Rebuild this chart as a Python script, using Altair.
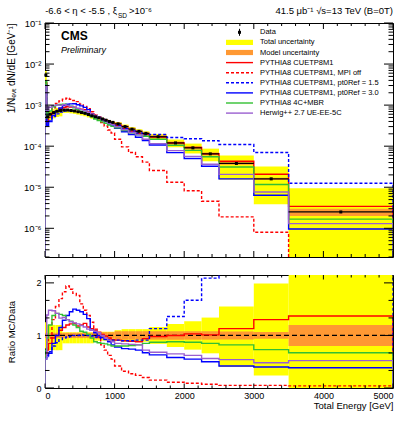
import altair as alt
import pandas as pd

# ---- binning and measured spectrum -------------------------------------
edges = [0, 25, 50, 100, 150, 200, 250, 300, 350, 400, 450, 500, 550, 600, 650,
         700, 750, 800, 850, 900, 950, 1000, 1100, 1200, 1300, 1400, 1500,
         1750, 2000, 2250, 2500, 3000, 3500, 5000]

data_dnde = [5.4e-3, 5.2e-4, 6.0e-4, 6.6e-4, 7.1e-4, 7.4e-4, 7.6e-4, 7.6e-4,
             7.4e-4, 7.2e-4, 6.9e-4, 6.6e-4, 6.3e-4, 5.9e-4, 5.5e-4, 5.2e-4,
             4.9e-4, 4.6e-4, 4.3e-4, 4.0e-4, 3.8e-4, 3.5e-4, 3.0e-4, 2.6e-4,
             2.3e-4, 2.05e-4, 1.7e-4, 1.2e-4, 9.1e-5, 6.5e-5, 3.8e-5, 1.6e-5,
             2.5e-6]

# relative uncertainties (upper / lower total, symmetric model)
tot_up = [0.25, 0.20, 0.20, 0.20, 0.20, 0.20, 0.06, 0.06, 0.06, 0.06, 0.06,
          0.06, 0.06, 0.06, 0.06, 0.07, 0.07, 0.07, 0.07, 0.07, 0.07, 0.10,
          0.12, 0.12, 0.12, 0.12, 0.16, 0.22, 0.27, 0.34, 0.55, 0.99, 2.80]
tot_dn = [0.25, 0.28, 0.28, 0.28, 0.28, 0.28, 0.15, 0.15, 0.15, 0.15, 0.15,
          0.15, 0.15, 0.15, 0.15, 0.10, 0.10, 0.10, 0.10, 0.10, 0.10, 0.10,
          0.12, 0.12, 0.12, 0.12, 0.16, 0.22, 0.27, 0.34, 0.60, 0.76, 1.00]
model_unc = [0.05, 0.05, 0.05, 0.05, 0.05, 0.05, 0.05, 0.05, 0.05, 0.05, 0.05,
             0.05, 0.05, 0.05, 0.05, 0.06, 0.06, 0.06, 0.06, 0.06, 0.06, 0.08,
             0.08, 0.08, 0.08, 0.08, 0.08, 0.08, 0.08, 0.08, 0.075, 0.065, 0.20]

# ---- MC / data ratios ----------------------------------------------------
r_cuetp8m1 = [0.62, 0.72, 0.85, 0.95, 1.00, 1.10, 1.15, 1.20, 1.22, 1.23, 1.18,
              1.20, 1.23, 1.16, 1.13, 1.10, 1.06, 1.02, 0.99, 0.95, 0.92, 0.91,
              0.90, 0.89, 0.88, 0.94, 0.98, 1.00, 1.03, 1.01, 1.13, 1.30, 1.37]
r_mpi_off = [0.65, 0.90, 0.95, 1.30, 1.55, 1.70, 1.83, 1.94, 1.88, 1.80, 1.76,
             1.60, 1.48, 1.38, 1.25, 1.12, 0.97, 0.82, 0.72, 0.62, 0.55, 0.42,
             0.32, 0.27, 0.24, 0.20, 0.15, 0.11, 0.09, 0.07, 0.05, 0.05, 0.04]
r_pt0_15 = [0.55, 0.60, 0.69, 0.80, 0.86, 0.92, 0.95, 0.97, 0.98, 1.00, 1.00,
            1.01, 1.00, 1.00, 0.99, 0.97, 0.96, 0.94, 0.93, 0.92, 0.91, 0.91,
            0.90, 0.90, 0.91, 0.91, 1.13, 1.36, 1.67, 2.09, 2.90, 4.40, 5.00]
r_pt0_30 = [0.58, 0.62, 0.66, 0.85, 1.00, 1.15, 1.29, 1.38, 1.45, 1.50, 1.48,
            1.45, 1.40, 1.32, 1.10, 1.05, 1.00, 0.96, 0.92, 0.88, 0.82, 0.78,
            0.75, 0.74, 0.72, 0.67, 0.63, 0.58, 0.55, 0.50, 0.42, 0.40, 0.385]
r_4c_mbr = [0.72, 0.95, 1.20, 1.38, 1.42, 1.40, 1.38, 1.30, 1.27, 1.20, 1.15,
            1.08, 1.06, 1.02, 0.95, 0.88, 0.86, 0.85, 0.84, 0.82, 0.80, 0.80,
            0.80, 0.81, 0.82, 0.85, 0.87, 0.88, 0.87, 0.85, 0.82, 0.73, 0.67]
r_herwig = [0.55, 1.39, 1.48, 1.47, 1.42, 1.33, 1.34, 1.30, 1.26, 1.24, 1.22,
            1.19, 1.16, 1.12, 1.10, 1.08, 1.05, 1.00, 0.95, 0.91, 0.88, 0.85,
            0.84, 0.83, 0.82, 0.72, 0.68, 0.65, 0.62, 0.56, 0.54, 0.48, 0.52]

legend_labels = ["Data", "Total uncertainty", "Model uncertainty",
                 "PYTHIA8 CUETP8M1", "PYTHIA8 CUETP8M1, MPI off",
                 "PYTHIA8 CUETP8M1, pt0Ref = 1.5", "PYTHIA8 CUETP8M1, pt0Ref = 3.0",
                 "PYTHIA8 4C+MBR", "Herwig++ 2.7 UE-EE-5C"]
x_tick_labels = [0, 1000, 2000, 3000, 4000, 5000]
ratio_tick_labels = [0, 1, 2]
decades = [-6, -5, -4, -3, -2, -1]

DOT = [3, 2]
styles = [
    (legend_labels[3], r_cuetp8m1, "#ff0000", None),
    (legend_labels[4], r_mpi_off, "#ff0000", DOT),
    (legend_labels[5], r_pt0_15, "#0000ff", DOT),
    (legend_labels[6], r_pt0_30, "#0000ff", None),
    (legend_labels[7], r_4c_mbr, "#33c033", None),
    (legend_labels[8], r_herwig, "#9a5fd0", None),
]
YELLOW, ORANGE = "#ffff00", "#ff9933"
FONT = "Liberation Sans"

W, H_TOP, H_RAT = 348, 234, 113
Y_TOP = [2e-7, 0.1]
Y_RAT = [0.0, 2.15]

xscale = alt.Scale(domain=[0, 5000], nice=False, zero=False)
ytop = alt.Scale(type="log", domain=Y_TOP, nice=False)
yrat = alt.Scale(domain=Y_RAT, nice=False, zero=False)

# ---- tables ----------------------------------------------------------------
lo, hi = edges[:-1], edges[1:]
bins = pd.DataFrame({"lo": lo, "hi": hi, "data": data_dnde,
                     "up": tot_up, "dn": tot_dn, "mu": model_unc})
bins["mid"] = (bins.lo + bins.hi) / 2
bins["tr_lo"] = (1 - bins.dn).clip(lower=0.0)
bins["tr_hi"] = 1 + bins.up
bins["mr_lo"] = 1 - bins.mu
bins["mr_hi"] = 1 + bins.mu
bins["tt_lo"] = bins.data * (1 - bins.dn).clip(lower=1e-3)
bins["tt_hi"] = bins.data * bins.tr_hi
bins["mt_lo"] = bins.data * bins.mr_lo
bins["mt_hi"] = bins.data * bins.mr_hi

rows = []
for name, rat, _, _ in styles:
    k = 0
    rows.append(dict(model=name, k=k, x=edges[0], r=Y_RAT[0], t=Y_TOP[0]))
    for a, b, d, r in zip(lo, hi, data_dnde, rat):
        rows.append(dict(model=name, k=k + 1, x=a, r=r, t=d * r))
        rows.append(dict(model=name, k=k + 2, x=b, r=r, t=d * r))
        k += 2
    rows.append(dict(model=name, k=k + 1, x=edges[-1], r=Y_RAT[0], t=Y_TOP[0]))
steps = pd.DataFrame(rows)

SUP = str.maketrans("-0123456789", "⁻⁰¹²³⁴⁵⁶⁷⁸⁹")
label_expr = ""
for d in decades[:-1]:
    label_expr += f"datum.value < {1.5 * 10 ** d} ? '10{str(d).translate(SUP)}' : "
label_expr += f"'10{str(decades[-1]).translate(SUP)}'"

top_yaxis = alt.Axis(values=[10.0 ** d for d in decades], labelExpr=label_expr,
                     ticks=False, tickSize=0, domain=False, grid=False,
                     labelFont=FONT, labelFontSize=9.5, labelPadding=4,
                     titleFont=FONT, titleFontSize=10, titleFontWeight="normal",
                     titleAngle=270, titleX=-34, titleY=0, titleAlign="right",
                     titleBaseline="middle")
rat_yaxis = alt.Axis(values=ratio_tick_labels, format="d", ticks=False, tickSize=0,
                     domain=False, grid=False, labelFont=FONT, labelFontSize=9,
                     labelPadding=4, titleFont=FONT, titleFontSize=9.5,
                     titleFontWeight="normal", titleAngle=270, titleX=-34,
                     titleY=H_RAT / 2, titleAlign="center", titleBaseline="middle")
rat_xaxis = alt.Axis(values=x_tick_labels, format="d", ticks=False, tickSize=0,
                     domain=False, grid=False, labelFont=FONT, labelFontSize=9,
                     labelPadding=3, titleFont=FONT, titleFontSize=9.5,
                     titleFontWeight="normal", titleX=W, titleY=20,
                     titleAlign="right", titleBaseline="alphabetic")

TOP_TITLE = "1/Nₑᵥₜ dN/dE [GeV⁻¹]"
RAT_TITLE = "Ratio MC/Data"
X_TITLE = "Total Energy [GeV]"


def X(field, panel):
    if panel == "top":
        return alt.X(field, scale=xscale, axis=None)
    return alt.X(field, scale=xscale, axis=rat_xaxis, title=X_TITLE)


def Y(field, panel):
    if panel == "top":
        return alt.Y(field, scale=ytop, axis=top_yaxis, title=TOP_TITLE)
    return alt.Y(field, scale=yrat, axis=rat_yaxis, title=RAT_TITLE)


def band_layers(panel):
    p = "t" if panel == "top" else "r"
    base = alt.Chart(bins)
    return [
        base.mark_rect(color=YELLOW, clip=True).encode(
            x=X("lo:Q", panel), x2="hi:Q", y=Y(f"t{p}_lo:Q", panel), y2=f"t{p}_hi:Q"),
        base.mark_rect(color=ORANGE, clip=True).encode(
            x=X("lo:Q", panel), x2="hi:Q", y=Y(f"m{p}_lo:Q", panel), y2=f"m{p}_hi:Q"),
    ]


def model_layers(panel):
    field = "t:Q" if panel == "top" else "r:Q"
    out = []
    for name, _, color, dash in styles:
        kw = dict(color=color, strokeWidth=1.4, clip=True)
        if dash:
            kw["strokeDash"] = dash
        out.append(alt.Chart(steps[steps.model == name]).mark_line(**kw).encode(
            x=X("x:Q", panel), y=Y(field, panel), order="k:Q"))
    return out


def tick_layers(panel, height, xmaj, xmin, ymaj_vals, ymin_vals, ymaj, ymin):
    out = []
    xt_major = [v for v in range(0, 5001, 1000)]
    xt_minor = [v for v in range(0, 5001, 200) if v % 1000]
    for vals, ln in ((xt_major, xmaj), (xt_minor, xmin)):
        d = alt.Chart(pd.DataFrame({"v": vals}))
        out.append(d.mark_rule(color="black", strokeWidth=1).encode(
            x=X("v:Q", panel), y=alt.value(height), y2=alt.value(height - ln)))
        out.append(d.mark_rule(color="black", strokeWidth=1).encode(
            x=X("v:Q", panel), y=alt.value(0), y2=alt.value(ln)))
    for vals, ln in ((ymaj_vals, ymaj), (ymin_vals, ymin)):
        d = alt.Chart(pd.DataFrame({"v": vals}))
        out.append(d.mark_rule(color="black", strokeWidth=1).encode(
            y=Y("v:Q", panel), x=alt.value(0), x2=alt.value(ln)))
        out.append(d.mark_rule(color="black", strokeWidth=1).encode(
            y=Y("v:Q", panel), x=alt.value(W), x2=alt.value(W - ln)))
    return out


def text(t, x, y, size=9.0, align="left", weight="normal", style="normal",
         baseline="alphabetic"):
    return alt.Chart(pd.DataFrame({"t": [t]})).mark_text(
        font=FONT, fontSize=size, align=align, baseline=baseline,
        fontWeight=weight, fontStyle=style, color="black").encode(
        x=alt.value(x), y=alt.value(y), text="t:N")


# ---- top panel -----------------------------------------------------------
top_minor = [m * 10.0 ** e for e in range(-7, -1) for m in range(2, 10)
             if Y_TOP[0] <= m * 10.0 ** e < Y_TOP[1]]
data_layers = [
    alt.Chart(bins).mark_rule(color="black", strokeWidth=1.2, clip=True).encode(
        x=X("lo:Q", "top"), x2="hi:Q", y=Y("data:Q", "top")),
    alt.Chart(bins).mark_square(color="black", size=9, opacity=1).encode(
        x=X("mid:Q", "top"), y=Y("data:Q", "top")),
]

# legend, drawn inside the upper panel
LX0, LX1, LT = 181, 208, 215
legend = []
for i, lab in enumerate(legend_labels):
    ry = 9.3 + 10.1 * i
    legend.append(text(lab, LT, ry, size=7.5, baseline="middle"))
    one = alt.Chart(pd.DataFrame({"t": [lab]}))
    if i == 0:
        legend.append(one.mark_rule(color="black", strokeWidth=1).encode(
            x=alt.value((LX0 + LX1) / 2), y=alt.value(ry - 3.5), y2=alt.value(ry + 3.5)))
        legend.append(one.mark_square(color="black", size=9, opacity=1).encode(
            x=alt.value((LX0 + LX1) / 2), y=alt.value(ry)))
    elif i in (1, 2):
        legend.append(one.mark_rect(color=YELLOW if i == 1 else ORANGE).encode(
            x=alt.value(LX0), x2=alt.value(LX1), y=alt.value(ry - 2.6), y2=alt.value(ry + 2.6)))
    else:
        _, _, color, dash = styles[i - 3]
        kw = dict(color=color, strokeWidth=1.4)
        if dash:
            kw["strokeDash"] = dash
        legend.append(one.mark_rule(**kw).encode(
            x=alt.value(LX0), x2=alt.value(LX1), y=alt.value(ry)))

labels_top = [
    text("CMS", 16, 17, size=12, weight="bold"),
    text("Preliminary", 16, 30, size=9, style="italic"),
    text("-6.6 < η < -5.5 , ξ", 72, -9, size=9.5, align="right"),
    text("SD", 73, -5.5, size=6.5),
    text(">10⁻⁶", 84, -9, size=9.5),
    text("41.5 μb⁻¹ √s=13 TeV (B=0T)", W, -9, size=9.5, align="right"),
]

top = alt.layer(
    *band_layers("top"),
    *model_layers("top"),
    *data_layers,
    *tick_layers("top", H_TOP, 6, 3, [10.0 ** d for d in decades], top_minor, 9, 4.5),
    *legend,
    *labels_top,
).properties(width=W, height=H_TOP)

# ---- ratio panel -------------------------------------------------------------
unity = alt.Chart(pd.DataFrame({"v": [1.0]})).mark_rule(
    color="black", strokeWidth=1.2, strokeDash=[5, 3]).encode(y=Y("v:Q", "rat"))

ratio = alt.layer(
    *band_layers("rat"),
    unity,
    *model_layers("rat"),
    *tick_layers("rat", H_RAT, 4.5, 2.5, ratio_tick_labels,
                 [k / 3 for k in range(1, 7) if k % 3], 9, 4.5),
).properties(width=W, height=H_RAT)

chart = alt.vconcat(top, ratio, spacing=16).properties(
    padding={"left": 5, "top": 5, "right": 16, "bottom": 10},
    background="white",
).configure_view(stroke="black", strokeWidth=1)

chart.save("out.html", embed_options={"renderer": "svg", "actions": False})
